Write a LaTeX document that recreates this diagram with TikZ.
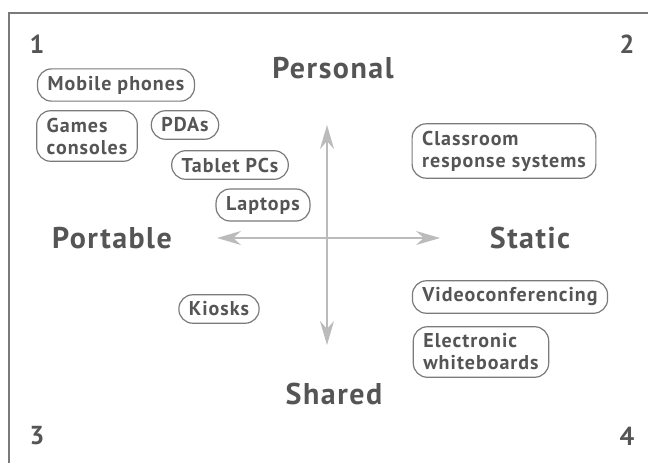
\documentclass[tikz,border=0pt]{standalone}
\usepackage{fontspec}
\setmainfont{PT Sans}[LetterSpace=5]
\usetikzlibrary{arrows.meta}
\definecolor{txtgray}{HTML}{555555}
\definecolor{boxgray}{HTML}{7A7A7A}
\definecolor{axisgray}{HTML}{BBBBBB}
\begin{document}
\begin{tikzpicture}[x=0.5pt, y=-0.5pt,
		device/.style={draw=boxgray, line width=0.6pt, rounded corners=7pt, align=left, inner xsep=5pt, inner ysep=3.5pt, text=txtgray, font=\bfseries\fontsize{10}{11}\selectfont},
		dimension/.style={text=txtgray, font=\bfseries\fontsize{15}{17}\selectfont},
		quadnum/.style={text=txtgray, font=\bfseries\fontsize{13}{15}\selectfont},
		axis/.style={draw=axisgray, line width=0.8pt, {Stealth[length=12pt,width=7pt]}-{Stealth[length=12pt,width=7pt]}}]
		\useasboundingbox (0,0) rectangle (648,462);
		\draw[color=boxgray, line width=1pt] (9,470) -- (9,13) -- (660,13);

		\node (q1) [quadnum] at (37,44) {1};
		\node (q2) [quadnum] at (627,44) {2};
		\node (q3) [quadnum] at (37,436) {3};
		\node (q4) [quadnum] at (627,436) {4};

		\node (personal) [dimension] at (333,68) {Personal};
		\node (portable) [dimension] at (112,238) {Portable};
		\node (static) [dimension] at (530,238) {Static};
		\node (shared) [dimension] at (334,394) {Shared};

		\coordinate (axtop) at (327,125);
		\coordinate (axbottom) at (327,345);
		\coordinate (axleft) at (217,238);
		\coordinate (axright) at (440,238);
		\draw[axis] (axtop) -- (axbottom);
		\draw[axis] (axleft) -- (axright);

		\node (mobile) [device] at (116,85) {Mobile phones};
		\node (games) [device] at (87,136) {Games\\consoles};
		\node (pdas) [device] at (185,125) {PDAs};
		\node (tablet) [device] at (230,165) {Tablet PCs};
		\node (laptops) [device] at (263,205) {Laptops};
		\node (crs) [device] at (504,151) {Classroom\\response systems};
		\node (kiosks) [device] at (219,309) {Kiosks};
		\node (video) [device] at (510,297) {Videoconferencing};
		\node (iwb) [device] at (481,352) {Electronic\\whiteboards};
	\end{tikzpicture}
\end{document}
